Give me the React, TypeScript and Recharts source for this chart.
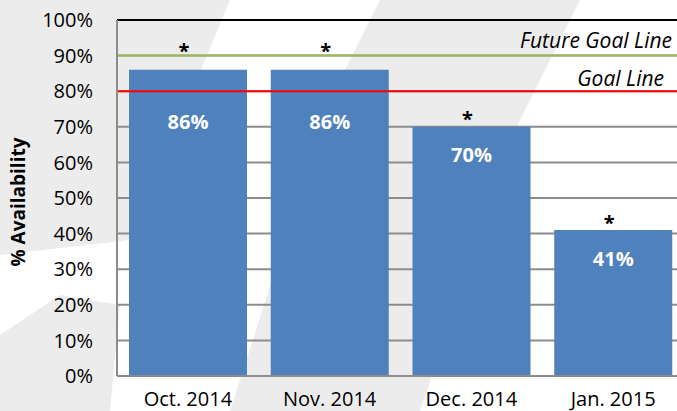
import React from "react";
import {
  BarChart,
  Bar,
  XAxis,
  YAxis,
  CartesianGrid,
  ReferenceLine,
  LabelList,
} from "recharts";

const months = ["Oct. 2014", "Nov. 2014", "Dec. 2014", "Jan. 2015"];
const availability = [86, 86, 70, 41];
const yTicks = [0, 10, 20, 30, 40, 50, 60, 70, 80, 90, 100];
const goalLine = 80;
const futureGoalLine = 90;

const data = months.map((m, i) => ({ month: m, value: availability[i] }));

const FONT = "'Open Sans', 'Noto Sans', sans-serif";
const BAR_COLOR = "#4f81bd";
const GRID = "#8c8c8c";

// white value label, kept under the goal line when the bar crosses it
const ValueLabel = (props: any) => {
  const { x, y, width, height, value } = props;
  const zeroY = y + height;
  const goalY = zeroY - (goalLine * height) / value;
  const cy = value > goalLine ? goalY + 30 : y + 28;
  return (
    <text
      x={x + width / 2}
      y={cy}
      fill="#fff"
      fontFamily={FONT}
      fontWeight={700}
      fontSize={20}
      textAnchor="middle"
      dominantBaseline="central"
    >
      {value}%
    </text>
  );
};

// asterisk above each bar, moved above the future goal line on high bars
const StarLabel = (props: any) => {
  const { x, y, width, height, value } = props;
  const zeroY = y + height;
  const futureY = zeroY - (futureGoalLine * height) / value;
  const cy = value > goalLine ? futureY - 9 : y - 12;
  return (
    <text
      x={x + width / 2 - 4}
      y={cy + 4}
      fill="#000"
      fontFamily={FONT}
      fontWeight={700}
      fontSize={20}
      textAnchor="middle"
      dominantBaseline="central"
    >
      *
    </text>
  );
};

const lineText = (text: string, inset: number, rise: number) => (p: any) => {
  const vb = p.viewBox;
  return (
    <text
      x={vb.x + vb.width - inset}
      y={vb.y - rise}
      fill="#000"
      fontFamily={FONT}
      fontStyle="italic"
      fontSize={21}
      textAnchor="end"
      dominantBaseline="central"
    >
      {text}
    </text>
  );
};

const YTitle = () => (
  <text
    x={18}
    y={202}
    transform="rotate(-90, 18, 202)"
    fill="#000"
    fontFamily={FONT}
    fontWeight={700}
    fontSize={19}
    textAnchor="middle"
    dominantBaseline="central"
  >
    % Availability
  </text>
);

export default function App() {
  return (
    <div
      style={{
        position: "fixed",
        left: 0,
        top: 0,
        width: 677,
        height: 411,
        overflow: "hidden",
        background: "#ffffff",
      }}
    >
      <svg
        width={677}
        height={411}
        style={{ position: "absolute", left: 0, top: 0 }}
      >
        <polygon points="0,0 230,0 130,240 0,255" fill="#ececec" />
        <polygon points="0,335 60,295 120,305 110,411 0,411" fill="#ececec" />
        <polygon
          points="380,0 580,0 520,120 420,411 230,411 330,100"
          fill="#ececec"
        />
      </svg>
      <div style={{ position: "absolute", left: 0, top: 0 }}>
        <BarChart
          width={700}
          height={411}
          data={data}
          margin={{ top: 20, right: 16, bottom: 0, left: 0 }}
        >
          <CartesianGrid vertical={false} stroke={GRID} strokeWidth={2} />
          <XAxis
            dataKey="month"
            height={35}
            axisLine={{ stroke: GRID, strokeWidth: 2 }}
            tickLine={false}
            tickMargin={10}
            tick={{ fill: "#000", fontSize: 20, fontFamily: FONT }}
          />
          <YAxis
            width={117}
            domain={[0, 100]}
            ticks={yTicks}
            tickFormatter={(v: number) => `${v}%`}
            axisLine={{ stroke: GRID, strokeWidth: 2 }}
            tickLine={false}
            tickMargin={18}
            tick={{ fill: "#000", fontSize: 20, fontFamily: FONT }}
            label={{ content: YTitle }}
          />
          <Bar
            dataKey="value"
            fill={BAR_COLOR}
            barSize={118}
            isAnimationActive={false}
          >
            <LabelList dataKey="value" content={ValueLabel} />
            <LabelList dataKey="value" content={StarLabel} />
          </Bar>
          <ReferenceLine y={100} stroke="#000" strokeWidth={2} />
          <ReferenceLine
            y={futureGoalLine}
            stroke="#9bbb59"
            strokeWidth={2}
            label={{ content: lineText("Future Goal Line", 12, 16) }}
          />
          <ReferenceLine
            y={goalLine}
            stroke="#ff0000"
            strokeWidth={2}
            label={{ content: lineText("Goal Line", 20, 13) }}
          />
        </BarChart>
      </div>
    </div>
  );
}
